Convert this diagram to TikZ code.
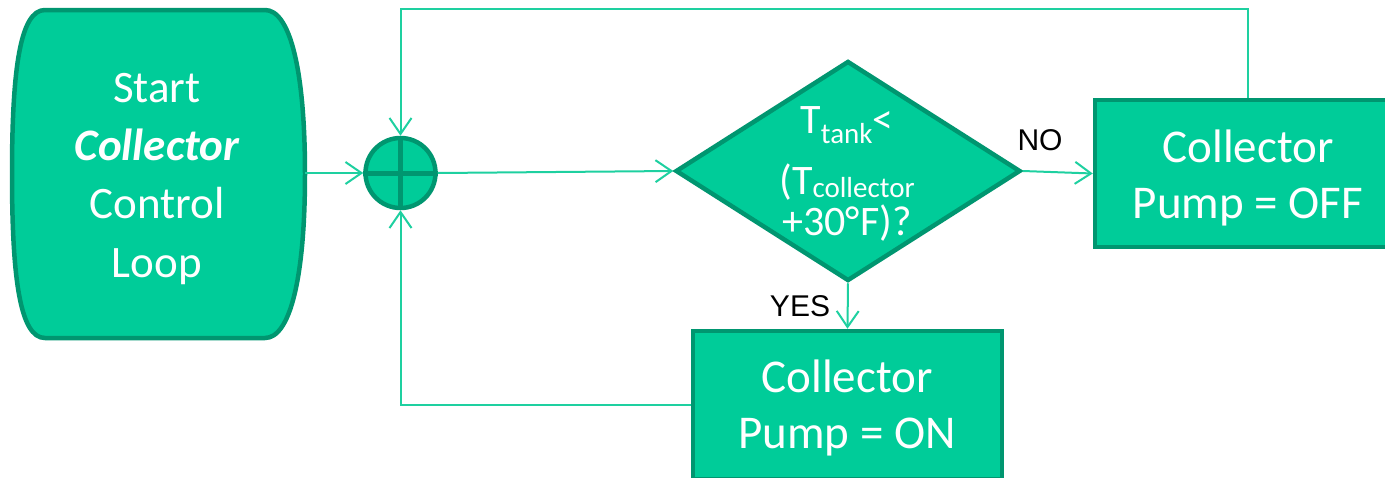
\documentclass[tikz,border=0pt]{standalone}
\usepackage{fontspec}
\setmainfont{Carlito}
\newfontfamily\arialf{Liberation Sans}
\usetikzlibrary{shapes.geometric,arrows.meta}
\definecolor{fillg}{RGB}{0,204,153}
\definecolor{edgeg}{RGB}{0,150,112}
\definecolor{lineg}{RGB}{30,208,160}
\begin{document}
\begin{tikzpicture}[x=1pt,y=-1pt,
  shapeg/.style={fill=fillg,draw=edgeg,line width=4.5pt},
  conn/.style={draw=lineg,line width=2pt,-{Straight Barb[length=16pt,width=22pt]}},
  wtext/.style={text=white,inner sep=0pt,anchor=base,font=\fontsize{47}{56}\selectfont},
  stext/.style={text=white,inner sep=0pt,anchor=base,font=\fontsize{45}{54}\selectfont},
  dtext/.style={text=white,inner sep=0pt,anchor=base,font=\fontsize{42}{50}\selectfont},
  lbl/.style={inner sep=0pt,font=\arialf\fontsize{30}{36}\selectfont}]
\useasboundingbox (0,0) rectangle (1385,477);
\clip (0,0) rectangle (1385,477);

% start terminator
\node[minimum width=293pt, minimum height=328pt, inner sep=0pt] (start) at (158.5,173) {};
\draw[shapeg] (45,10) -- (265,10) .. controls (290,10) and (305,70) .. (305,174)
  .. controls (305,278) and (290,338) .. (265,338) -- (45,338)
  .. controls (20,338) and (12,278) .. (12,174)
  .. controls (12,70) and (20,10) .. (45,10) -- cycle;
\node[stext] (s1) at (157,102) {Start};
\node[stext] (s2) at (157,160) {\bfseries\itshape Collector};
\node[stext] (s3) at (157,218) {Control};
\node[stext] (s4) at (157,277) {Loop};

% summing junction
\node[shapeg, circle, minimum size=70pt, inner sep=0pt] (sum) at (400.5,173) {};
\draw[edgeg, line width=5pt] (sum.north) -- (sum.south) (sum.west) -- (sum.east);

% decision
\node[shapeg, diamond, minimum width=345pt, minimum height=220pt, inner sep=0pt] (dec) at (848,171) {};
\node[dtext] (d1) at (847,133) {T\raisebox{-10pt}{\fontsize{29}{29}\selectfont tank}<};
\node[dtext] (d2) at (847,194) {(T\raisebox{-3pt}{\fontsize{29}{29}\selectfont collector}};
\node[dtext] (d3) at (847,235) {+30°F)?};

% process boxes
\node[shapeg, minimum width=306pt, minimum height=147pt] (off) at (1248,173.5) {};
\node[wtext] (off1) at (1248,162) {Collector};
\node[wtext] (off2) at (1248,218) {Pump = OFF};
\node[shapeg, minimum width=309pt, minimum height=148pt] (on) at (847.5,405) {};
\node[wtext] (on1) at (847,392) {Collector};
\node[wtext] (on2) at (847,448) {Pump = ON};

% labels
\node[lbl] (no) at (1040,140) {NO};
\node[lbl] (yes) at (800,306) {YES};

% connectors
\coordinate (lt) at (400.5,9);
\draw[conn] (start.east) -- (sum.west);
\draw[conn] (sum.east) -- (dec.west);
\draw[conn] (dec.east) -- (off.west);
\draw[conn] (dec.south) -- (on.north);
\draw[conn] (off.north) |- (lt) -- (sum.north);
\draw[conn] (on.west) -| (sum.south);
\end{tikzpicture}
\end{document}
